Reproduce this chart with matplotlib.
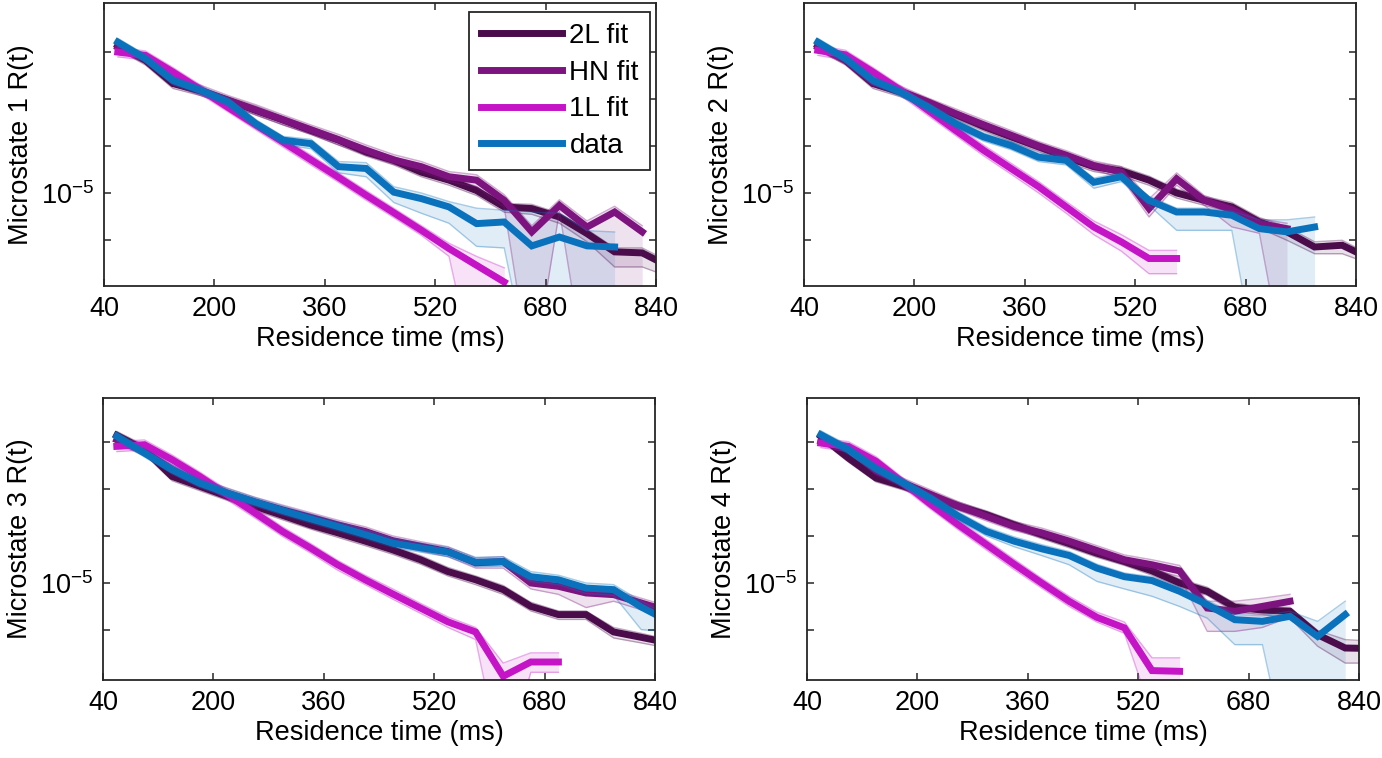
import numpy as np
import matplotlib
matplotlib.use("Agg")
import matplotlib.pyplot as plt
from matplotlib.ticker import FixedLocator, FixedFormatter, NullLocator

plt.rcParams.update({
    'font.family': ['Liberation Sans', 'DejaVu Sans'],
    'mathtext.fontset': 'custom',
    'mathtext.rm': 'Liberation Sans',
    'mathtext.it': 'Liberation Sans:italic',
    'font.size': 19.5,
})

# residence time bins (ms)
time_ms = [60, 100, 140, 180, 220, 260, 300, 340, 380, 420, 460,
           500, 540, 580, 620, 660, 700, 740, 780, 820, 860]

# R(t) values in units of 1e-5; lo / hi = shaded band
# ---- Microstate 1
m1_2l = [6.10, 5.08, 3.82, 3.49, 3.11, 2.75, 2.44, 2.15, 1.91, 1.65, 1.49, 1.29, 1.17, 1.03, 0.843, 0.826, 0.745, 0.608, 0.486, 0.480, 0.404]
m1_2l_lo = [5.8, 4.8, 3.6, 3.3, 2.95, 2.6, 2.3, 2.05, 1.8, 1.57, 1.41, 1.22, 1.1, 0.97, 0.79, 0.77, 0.69, 0.55, 0.404, 0.404, 0.357]
m1_2l_hi = [6.4, 5.3, 4.0, 3.65, 3.25, 2.9, 2.55, 2.25, 2.0, 1.73, 1.56, 1.36, 1.23, 1.08, 0.88, 0.87, 0.78, 0.64, 0.51, 0.51, 0.43]
m1_hn = [5.98, 5.19, 3.97, 3.52, 3.11, 2.77, 2.45, 2.17, 1.92, 1.69, 1.50, 1.38, 1.22, 1.17, 0.914, 0.621, 0.859, 0.659, 0.792, 0.621]
m1_hn_lo = [5.7, 4.9, 3.75, 3.3, 2.95, 2.6, 2.3, 2.05, 1.8, 1.6, 1.42, 1.3, 1.15, 1.08, 0.84, 0.1, 0.8, 0.1, 0.1, 0.1]
m1_hn_hi = [6.3, 5.5, 4.2, 3.75, 3.3, 2.95, 2.6, 2.3, 2.05, 1.8, 1.6, 1.47, 1.3, 1.25, 0.98, 0.67, 0.92, 0.71, 0.85, 0.67]
m1_1l = [5.62, 5.40, 4.40, 3.55, 2.85, 2.30, 1.86, 1.50, 1.21, 0.972, 0.785, 0.633, 0.506, 0.412, 0.336]
m1_1l_lo = [5.3, 5.1, 4.15, 3.35, 2.7, 2.17, 1.75, 1.41, 1.14, 0.915, 0.74, 0.595, 0.46, 0.1, 0.1]
m1_1l_hi = [5.95, 5.7, 4.65, 3.75, 3.0, 2.43, 1.97, 1.59, 1.28, 1.03, 0.83, 0.67, 0.54, 0.46, 0.40]
m1_data = [6.35, 5.19, 3.97, 3.52, 3.05, 2.34, 1.91, 1.83, 1.38, 1.35, 1.01, 0.933, 0.843, 0.687, 0.701, 0.523, 0.583, 0.523, 0.516]
m1_data_lo = [6.05, 4.95, 3.78, 3.35, 2.9, 2.22, 1.81, 1.72, 1.28, 1.22, 0.89, 0.78, 0.69, 0.52, 0.51, 0.1, 0.1, 0.1, 0.1]
m1_data_hi = [6.65, 5.45, 4.17, 3.7, 3.2, 2.46, 2.0, 1.93, 1.47, 1.45, 1.08, 1.0, 0.9, 0.83, 0.81, 0.79, 0.78, 0.63, 0.62]

# ---- Microstate 2
m2_2l = [6.10, 5.08, 3.82, 3.44, 3.01, 2.61, 2.26, 1.99, 1.76, 1.55, 1.38, 1.31, 1.17, 1.00, 0.914, 0.843, 0.701, 0.621, 0.516, 0.527, 0.448]
m2_2l_lo = [5.8, 4.8, 3.6, 3.25, 2.85, 2.47, 2.14, 1.88, 1.66, 1.46, 1.3, 1.23, 1.1, 0.94, 0.86, 0.79, 0.65, 0.56, 0.475, 0.475, 0.42]
m2_2l_hi = [6.4, 5.35, 4.0, 3.6, 3.15, 2.74, 2.37, 2.09, 1.85, 1.63, 1.45, 1.38, 1.23, 1.05, 0.96, 0.89, 0.74, 0.66, 0.55, 0.56, 0.47]
m2_hn = [5.98, 5.12, 3.89, 3.49, 3.05, 2.64, 2.31, 2.03, 1.78, 1.59, 1.40, 1.29, 0.826, 1.19, 0.914, 0.815, 0.687, 0.646]
m2_hn_lo = [5.7, 4.85, 3.7, 3.3, 2.9, 2.5, 2.2, 1.93, 1.69, 1.51, 1.33, 1.2, 0.745, 1.1, 0.86, 0.66, 0.61, 0.1]
m2_hn_hi = [6.3, 5.4, 4.1, 3.7, 3.2, 2.8, 2.45, 2.15, 1.88, 1.68, 1.48, 1.38, 0.93, 1.28, 0.97, 0.86, 0.73, 0.69]
m2_1l = [5.74, 5.44, 4.40, 3.52, 2.75, 2.15, 1.69, 1.35, 1.08, 0.843, 0.659, 0.549, 0.448, 0.448]
m2_1l_lo = [5.4, 5.1, 4.15, 3.3, 2.58, 2.02, 1.58, 1.26, 1.0, 0.78, 0.6, 0.49, 0.372, 0.372]
m2_1l_hi = [6.1, 5.75, 4.65, 3.72, 2.92, 2.28, 1.8, 1.44, 1.15, 0.9, 0.71, 0.6, 0.495, 0.495]
m2_data = [6.35, 5.19, 3.97, 3.44, 2.87, 2.34, 1.99, 1.79, 1.55, 1.49, 1.14, 1.22, 0.914, 0.792, 0.792, 0.761, 0.646, 0.621, 0.659]
m2_data_lo = [6.05, 4.95, 3.78, 3.27, 2.73, 2.22, 1.89, 1.7, 1.47, 1.41, 1.06, 1.15, 0.86, 0.633, 0.633, 0.633, 0.1, 0.1, 0.1]
m2_data_hi = [6.65, 5.45, 4.17, 3.6, 3.0, 2.46, 2.09, 1.88, 1.63, 1.57, 1.2, 1.28, 0.96, 0.83, 0.83, 0.8, 0.72, 0.72, 0.745]

# ---- Microstate 3
m3_2l = [6.10, 5.12, 3.69, 3.27, 2.89, 2.56, 2.29, 2.04, 1.85, 1.67, 1.50, 1.33, 1.15, 1.04, 0.922, 0.751, 0.679, 0.679, 0.549, 0.514, 0.480]
m3_2l_lo = [5.8, 4.85, 3.5, 3.1, 2.75, 2.43, 2.17, 1.94, 1.75, 1.58, 1.42, 1.26, 1.09, 0.98, 0.87, 0.71, 0.64, 0.64, 0.51, 0.48, 0.45]
m3_2l_hi = [6.4, 5.4, 3.88, 3.43, 3.03, 2.69, 2.4, 2.14, 1.94, 1.75, 1.57, 1.4, 1.21, 1.09, 0.97, 0.79, 0.71, 0.71, 0.58, 0.54, 0.5]
m3_hn = [5.78, 5.01, 4.01, 3.40, 3.01, 2.70, 2.45, 2.24, 2.04, 1.88, 1.68, 1.57, 1.47, 1.28, 1.30, 1.00, 0.960, 0.885, 0.867, 0.783, 0.707]
m3_hn_lo = [5.5, 4.75, 3.8, 3.22, 2.85, 2.56, 2.32, 2.12, 1.93, 1.78, 1.59, 1.48, 1.38, 1.2, 1.2, 0.93, 0.87, 0.74, 0.8, 0.72, 0.66]
m3_hn_hi = [6.1, 5.3, 4.25, 3.6, 3.2, 2.86, 2.6, 2.37, 2.16, 1.99, 1.78, 1.66, 1.56, 1.36, 1.38, 1.06, 1.02, 0.94, 0.92, 0.83, 0.75]
m3_1l = [5.33, 5.44, 4.53, 3.69, 2.95, 2.36, 1.88, 1.54, 1.25, 1.04, 0.874, 0.736, 0.621, 0.549, 0.319, 0.380, 0.380]
m3_1l_lo = [5.0, 5.1, 4.25, 3.47, 2.77, 2.22, 1.77, 1.45, 1.17, 0.98, 0.82, 0.69, 0.58, 0.5, 0.1, 0.335, 0.335]
m3_1l_hi = [5.65, 5.77, 4.8, 3.9, 3.13, 2.5, 1.99, 1.63, 1.32, 1.1, 0.93, 0.78, 0.66, 0.58, 0.375, 0.425, 0.425]
m3_data = [6.03, 4.91, 4.01, 3.40, 3.01, 2.70, 2.43, 2.20, 2.00, 1.81, 1.63, 1.54, 1.46, 1.29, 1.30, 1.08, 1.04, 0.940, 0.922, 0.745, 0.625]
m3_data_lo = [5.75, 4.68, 3.82, 3.24, 2.87, 2.57, 2.31, 2.09, 1.9, 1.72, 1.55, 1.46, 1.38, 1.22, 1.23, 1.02, 0.98, 0.88, 0.86, 0.565, 0.55]
m3_data_hi = [6.35, 5.18, 4.23, 3.58, 3.18, 2.85, 2.57, 2.33, 2.12, 1.92, 1.73, 1.63, 1.55, 1.37, 1.38, 1.15, 1.1, 1.0, 0.98, 0.8, 0.67]

# ---- Microstate 4
m4_2l = [6.03, 4.62, 3.62, 3.27, 2.89, 2.56, 2.31, 2.04, 1.81, 1.62, 1.44, 1.30, 1.16, 1.00, 0.903, 0.743, 0.718, 0.707, 0.531, 0.451, 0.448]
m4_2l_lo = [5.75, 4.4, 3.45, 3.12, 2.75, 2.44, 2.2, 1.94, 1.72, 1.54, 1.37, 1.24, 1.1, 0.95, 0.86, 0.7, 0.68, 0.65, 0.461, 0.375, 0.375]
m4_2l_hi = [6.3, 4.85, 3.8, 3.43, 3.03, 2.69, 2.42, 2.14, 1.9, 1.7, 1.51, 1.37, 1.22, 1.05, 0.95, 0.78, 0.75, 0.74, 0.56, 0.5, 0.49]
m4_hn = [5.67, 5.22, 3.96, 3.40, 2.95, 2.56, 2.26, 2.00, 1.85, 1.67, 1.49, 1.33, 1.25, 1.16, 0.736, 0.707, 0.751, 0.799]
m4_hn_lo = [5.4, 4.95, 3.75, 3.22, 2.8, 2.43, 2.14, 1.9, 1.75, 1.58, 1.41, 1.26, 1.18, 1.08, 0.553, 0.553, 0.58, 0.66]
m4_hn_hi = [6.0, 5.5, 4.2, 3.6, 3.12, 2.7, 2.39, 2.12, 1.96, 1.77, 1.58, 1.41, 1.33, 1.24, 0.8, 0.8, 0.83, 0.87]
m4_1l = [5.55, 5.33, 4.44, 3.40, 2.61, 2.03, 1.60, 1.26, 1.00, 0.799, 0.657, 0.577, 0.342, 0.339]
m4_1l_lo = [5.25, 5.0, 4.2, 3.2, 2.46, 1.91, 1.5, 1.18, 0.94, 0.75, 0.62, 0.54, 0.2, 0.2]
m4_1l_hi = [5.85, 5.65, 4.7, 3.6, 2.77, 2.15, 1.7, 1.34, 1.06, 0.85, 0.7, 0.62, 0.4, 0.4]
m4_data = [6.15, 5.12, 4.06, 3.40, 2.81, 2.26, 1.88, 1.67, 1.52, 1.40, 1.20, 1.08, 1.03, 0.903, 0.767, 0.638, 0.625, 0.665, 0.520, 0.679]
m4_data_lo = [5.85, 4.85, 3.86, 3.23, 2.67, 2.14, 1.78, 1.56, 1.4, 1.25, 1.02, 0.93, 0.85, 0.75, 0.65, 0.47, 0.47, 0.1, 0.1, 0.1]
m4_data_hi = [6.45, 5.4, 4.27, 3.57, 2.95, 2.38, 1.98, 1.76, 1.6, 1.47, 1.26, 1.13, 1.08, 0.95, 0.81, 0.68, 0.67, 0.707, 0.625, 0.80]

series_labels = ["2L fit", "HN fit", "1L fit", "data"]
series_colors = ["#4b0c4c", "#7d137e", "#c414c6", "#0a72bc"]

x_ticks = [40, 200, 360, 520, 680, 840]
y_tick_exp = [-5.25, -5.0, -4.75, -4.5, -4.25]

panels = [
    ("Microstate 1 R(t)", [(m1_2l, m1_2l_lo, m1_2l_hi), (m1_hn, m1_hn_lo, m1_hn_hi),
                           (m1_1l, m1_1l_lo, m1_1l_hi), (m1_data, m1_data_lo, m1_data_hi)]),
    ("Microstate 2 R(t)", [(m2_2l, m2_2l_lo, m2_2l_hi), (m2_hn, m2_hn_lo, m2_hn_hi),
                           (m2_1l, m2_1l_lo, m2_1l_hi), (m2_data, m2_data_lo, m2_data_hi)]),
    ("Microstate 3 R(t)", [(m3_2l, m3_2l_lo, m3_2l_hi), (m3_hn, m3_hn_lo, m3_hn_hi),
                           (m3_1l, m3_1l_lo, m3_1l_hi), (m3_data, m3_data_lo, m3_data_hi)]),
    ("Microstate 4 R(t)", [(m4_2l, m4_2l_lo, m4_2l_hi), (m4_hn, m4_hn_lo, m4_hn_hi),
                           (m4_1l, m4_1l_lo, m4_1l_hi), (m4_data, m4_data_lo, m4_data_hi)]),
]

W, H = 1382, 758
# axes boxes in pixels: left, top, width, height
boxes = [(104, 3, 552, 283), (804, 3, 552, 283), (103, 398, 552, 282), (807, 398, 552, 282)]
y_lims = [(-5.495, -3.989), (-5.495, -3.989), (-5.516, -4.016), (-5.516, -4.016)]


def padded(vals):
    out = np.full(len(time_ms), np.nan)
    out[:len(vals)] = vals
    return out * 1e-5


fig = plt.figure(figsize=(W / 100, H / 100), dpi=100)
t = np.array(time_ms)

for i, (ylabel, series) in enumerate(panels):
    l, top, w, h = boxes[i]
    ax = fig.add_axes([l / W, (H - top - h) / H, w / W, h / H])
    ax.set_yscale('log')
    handles = []
    for (vals, lo, hi), col, lab in zip(series, series_colors, series_labels):
        v, vl, vh = padded(vals), padded(lo), padded(hi)
        ax.fill_between(t, vl, vh, color=col, alpha=0.12, lw=0)
        ax.plot(t, vl, color=col, lw=1.0, alpha=0.35)
        ax.plot(t, vh, color=col, lw=1.0, alpha=0.35)
        hd, = ax.plot(t, v, color=col, lw=5, solid_joinstyle='miter', label=lab)
        handles.append(hd)

    ax.set_xlim(40, 840)
    ax.set_ylim(10 ** y_lims[i][0], 10 ** y_lims[i][1])
    ax.set_xticks(x_ticks)
    ax.set_xticklabels([str(x) for x in x_ticks])
    ax.yaxis.set_major_locator(FixedLocator([10 ** e for e in y_tick_exp]))
    ax.yaxis.set_major_formatter(FixedFormatter(["" if e != -5.0 else "$10^{-5}$" for e in y_tick_exp]))
    ax.yaxis.set_minor_locator(NullLocator())
    ax.tick_params(direction='in', length=5, width=1.1, top=True, right=True,
                   colors='#262626', labelcolor='black', pad=7)
    for sp in ax.spines.values():
        sp.set_linewidth(1.3)
        sp.set_color('#262626')
    ax.set_xlabel("Residence time (ms)", labelpad=3)
    ax.set_ylabel(ylabel, labelpad=5)

    if i == 0:
        ax.legend(handles=handles, loc='upper right', bbox_to_anchor=(0.989, 0.968),
                  fontsize=20, handlelength=2.95, labelspacing=0.38, handletextpad=0.25,
                  borderpad=0.4, borderaxespad=0.0, fancybox=False, framealpha=1,
                  edgecolor='#262626')
        ax.get_legend().get_frame().set_linewidth(1.3)

fig.savefig("out.png", dpi=100)
